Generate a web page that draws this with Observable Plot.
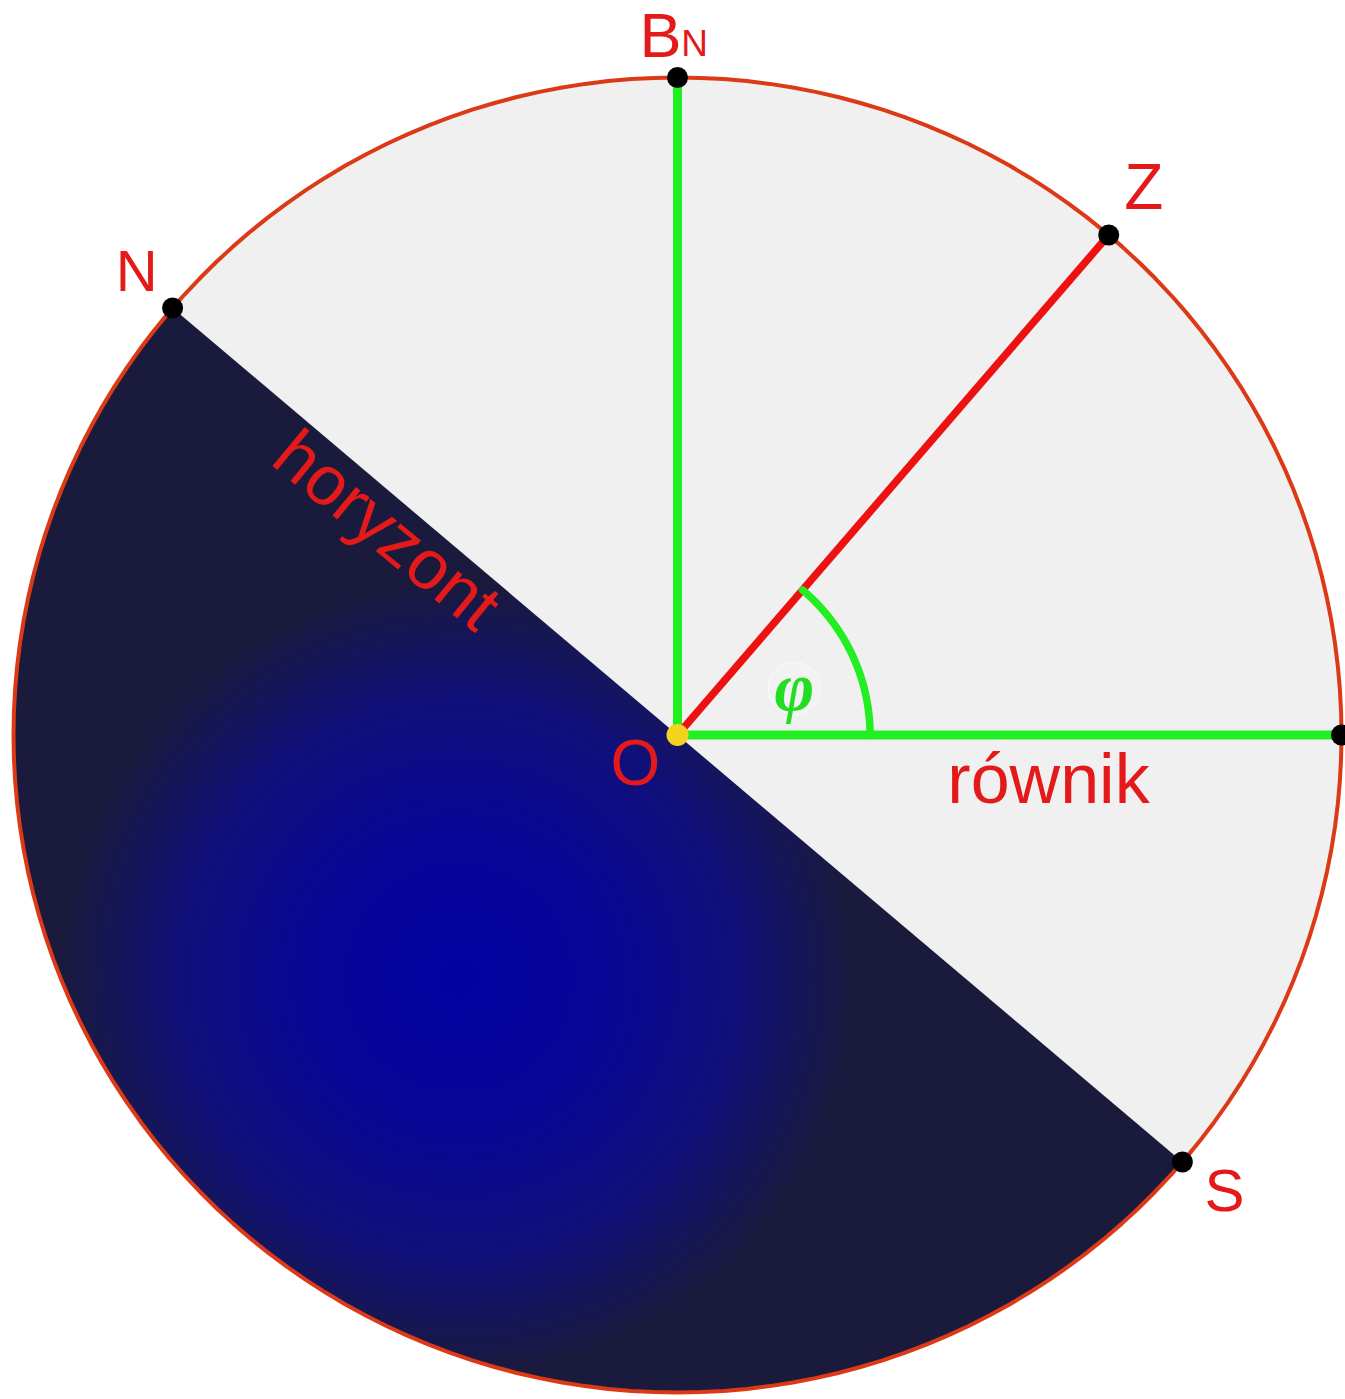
<!DOCTYPE html>
<html>
<head>
<meta charset="utf-8">
<script src="https://cdn.jsdelivr.net/npm/d3@7"></script>
<script src="https://cdn.jsdelivr.net/npm/@observablehq/plot@0.6"></script>
<style>
html, body { margin: 0; padding: 0; background: #ffffff; }
#chart svg { display: block; }
</style>
</head>
<body>
<div id="chart"></div>
<script>
// ---- data ----
const latitude = 49.5;                       // φ, degrees
const pointNames  = ["N", "Z", "S", "BN", "E"];
const pointAngles = [latitude + 90, latitude, latitude - 90, 90, 0]; // degrees on the meridian circle
const greenRays   = ["BN", "E"];             // polar axis and equator
const redRays     = ["Z"];                   // zenith direction
const labelO = "O", labelEquator = "równik", labelHorizon = "horyzont", labelPhi = "φ";
const labelB = "B", labelBsub = "N";

// ---- helpers (geometry on the unit circle) ----
const rad = a => a * Math.PI / 180;
const onCircle = (a, r = 1) => ({x: r * Math.cos(rad(a)), y: r * Math.sin(rad(a))});
const arcPts = (a0, a1, r = 1) => d3.range(a0, a1 + 0.001, (a1 - a0) / 180).map(a => onCircle(a, r));
const pts = pointNames.map((n, i) => ({name: n, ...onCircle(pointAngles[i])}));
const byName = n => pts.find(p => p.name === n);

const fullCircle = arcPts(0, 360);
const darkHalf = arcPts(latitude + 90, latitude + 270);
const phiArc = arcPts(0, latitude, 0.29);

const gradCenter = [-0.33, -0.37], gradRadius = 0.6;

const RED = "#e41a1a", GREEN = "#22ee22", FONT = "Liberation Sans, Arial, sans-serif";

// gradient defs as a function mark
const gradientDefs = (index, scales) => {
  const ns = "http://www.w3.org/2000/svg";
  const defs = document.createElementNS(ns, "defs");
  const g = document.createElementNS(ns, "radialGradient");
  g.setAttribute("id", "sky");
  g.setAttribute("gradientUnits", "userSpaceOnUse");
  g.setAttribute("cx", scales.x(gradCenter[0]));
  g.setAttribute("cy", scales.y(gradCenter[1]));
  g.setAttribute("r", scales.x(gradRadius) - scales.x(0));
  [[0, "#0202a2"], [0.35, "#060698"], [0.7, "#10107a"], [1, "#1a1a3c"]].forEach(([o, c]) => {
    const s = document.createElementNS(ns, "stop");
    s.setAttribute("offset", o);
    s.setAttribute("stop-color", c);
    g.appendChild(s);
  });
  defs.appendChild(g);
  return defs;
};

const txt = (t, o) => Plot.text([t], {x: () => 0, y: () => 0, text: d => d, fill: RED, fontFamily: FONT, ...o});
const phiPos = onCircle(22, 0.19);

const chart = Plot.plot({
  width: 1345,
  height: 1399,
  margin: 0,
  x: {domain: [-1, 1], range: [13, 1341], axis: null},
  y: {domain: [-1, 1], range: [1392, 77], axis: null},
  style: {background: "#ffffff", overflow: "visible"},
  marks: [
    gradientDefs,
    Plot.line(fullCircle, {x: "x", y: "y", fill: "#f0f0f0", stroke: "none"}),
    Plot.line(darkHalf, {x: "x", y: "y", fill: "url(#sky)", stroke: "none"}),
    Plot.line(fullCircle, {x: "x", y: "y", stroke: "#dc3a16", strokeWidth: 4}),
    Plot.link(greenRays.map(byName), {x1: () => 0, y1: () => 0, x2: "x", y2: "y", stroke: GREEN, strokeWidth: 9}),
    Plot.link(redRays.map(byName), {x1: () => 0, y1: () => 0, x2: "x", y2: "y", stroke: "#ee1111", strokeWidth: 7.5}),
    Plot.line(phiArc, {x: "x", y: "y", stroke: GREEN, strokeWidth: 7.5}),
    Plot.dot(pts, {x: "x", y: "y", r: 10.5, fill: "#000000"}),
    Plot.dot([0], {x: () => 0, y: () => 0, r: 11, fill: "#f2d41e"}),
    Plot.dot([labelPhi], {x: () => phiPos.x, y: () => phiPos.y, r: 26, fill: "#f2f2f2", stroke: "#f7f7f7"}),
    Plot.text([labelPhi], {x: () => phiPos.x, y: () => phiPos.y, text: d => d, fill: "#22dd22",
      fontFamily: "Liberation Serif, DejaVu Serif, serif", fontWeight: "bold", fontStyle: "italic", fontSize: 68, dy: 0}),
    Plot.text(["N"], {x: () => byName("N").x, y: () => byName("N").y, text: d => d, fill: RED, fontFamily: FONT, fontSize: 58, dx: -36, dy: -36}),
    Plot.text(["Z"], {x: () => byName("Z").x, y: () => byName("Z").y, text: d => d, fill: RED, fontFamily: FONT, fontSize: 64, dx: 35, dy: -47}),
    Plot.text(["S"], {x: () => byName("S").x, y: () => byName("S").y, text: d => d, fill: RED, fontFamily: FONT, fontSize: 60, dx: 42, dy: 30}),
    Plot.text([labelB], {x: () => byName("BN").x, y: () => byName("BN").y, text: d => d, fill: RED, fontFamily: FONT, fontSize: 63, dx: -17, dy: -41}),
    Plot.text([labelBsub], {x: () => byName("BN").x, y: () => byName("BN").y, text: d => d, fill: RED, fontFamily: FONT, fontSize: 37, dx: 17, dy: -33}),
    txt(labelO, {fontSize: 64, dx: -42, dy: 30}),
    txt(labelEquator, {fontSize: 70, dx: 371, dy: 46}),
    txt(labelHorizon, {fontSize: 70, rotate: 39.5, dx: -291, dy: -204})
  ]
});

document.getElementById("chart").appendChild(chart);
</script>
</body>
</html>
